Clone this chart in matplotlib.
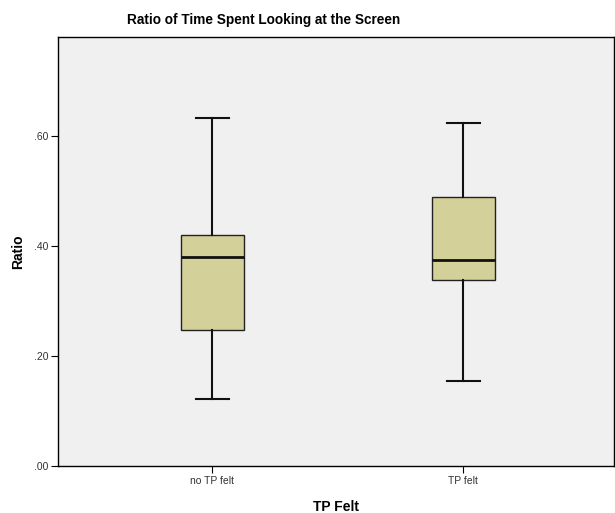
import matplotlib
matplotlib.use('Agg')
import matplotlib.pyplot as plt
from matplotlib.ticker import FuncFormatter

# boxplot summary per group
groups = ['no TP felt', 'TP felt']
whislo = [0.122, 0.155]
q1 = [0.247, 0.338]
med = [0.380, 0.375]
q3 = [0.420, 0.489]
whishi = [0.633, 0.624]

stats = []
for i in range(len(groups)):
    stats.append({'label': groups[i], 'whislo': whislo[i], 'q1': q1[i],
                  'med': med[i], 'q3': q3[i], 'whishi': whishi[i], 'fliers': []})

plt.rcParams['font.family'] = ['Liberation Sans', 'DejaVu Sans']

fig = plt.figure(figsize=(6.15, 5.13), dpi=100)
ax = fig.add_axes([58/615, 47/513, 556/615, 429/513])
ax.set_facecolor('#f0f0f0')

ax.bxp(stats, positions=[1, 2], widths=0.25, patch_artist=True,
       boxprops=dict(facecolor='#d4d09a', edgecolor='#222222', linewidth=1.0),
       medianprops=dict(color='#111111', linewidth=2.0),
       whiskerprops=dict(color='#111111', linewidth=1.5),
       capprops=dict(color='#111111', linewidth=1.5),
       capwidths=0.13, showfliers=False)

ax.set_xlim(0.386, 2.6)
ax.set_ylim(0, 0.78)
ax.set_yticks([0, 0.2, 0.4, 0.6])
ax.yaxis.set_major_formatter(FuncFormatter(lambda v, p: ('%.2f' % v)[1:]))
ax.tick_params(axis='both', labelsize=7.5, labelcolor='#333333', length=5,
               width=0.8, pad=2)

for s in ax.spines.values():
    s.set_linewidth(1.0)

# title sits left of the axes centre
fig.text(264/615, 1 - 20/513, 'Ratio of Time Spent Looking at the Screen',
         fontsize=9.8, fontweight='bold', ha='center', va='center')
ax.set_ylabel('Ratio', fontsize=10, fontweight='bold', labelpad=6)
ax.set_xlabel('TP Felt', fontsize=10, fontweight='bold', labelpad=10)

fig.savefig('out.png', dpi=100)
